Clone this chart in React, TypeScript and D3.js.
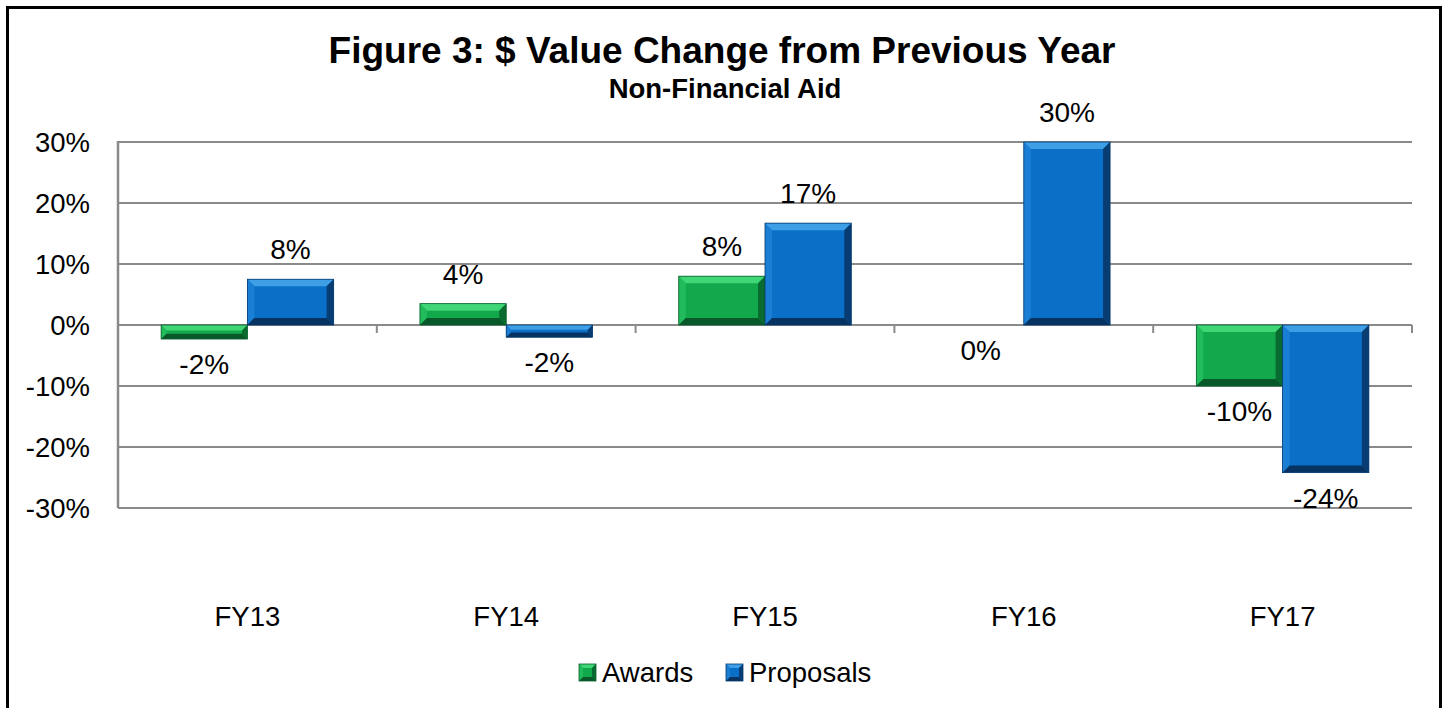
import React from "react";
import * as d3 from "d3";

const categories = ["FY13", "FY14", "FY15", "FY16", "FY17"];
const seriesNames = ["Awards", "Proposals"];
const awards = [-2.3, 3.5, 8.0, 0, -10.0];
const proposals = [7.5, -2.0, 16.7, 30.0, -24.2];
const yTicks = [30, 20, 10, 0, -10, -20, -30];

const W = 1448;
const H = 708;
const FONT = "'Liberation Sans', Arial, Helvetica, sans-serif";

const palettes = [
  { face: "#12a94c", top: "#3fd676", left: "#22bb5c", right: "#0a6b30", bottom: "#08582a", stroke: "#0b5e2c" },
  { face: "#0a6fc6", top: "#3f9fe6", left: "#1a7fd4", right: "#073d73", bottom: "#063361", stroke: "#063a6c" },
];

function Bevel({ x, y, w, h, p, b0 }: { x: number; y: number; w: number; h: number; p: any; b0: number }) {
  if (h <= 0.5 || w <= 0) return null;
  const b = Math.min(b0, h / 2.6, w / 3);
  const pts = (a: number[][]) => a.map((q) => q.join(",")).join(" ");
  return (
    <g>
      <rect x={x} y={y} width={w} height={h} fill={p.face} />
      <polygon points={pts([[x, y], [x + w, y], [x + w - b, y + b], [x + b, y + b]])} fill={p.top} />
      <polygon points={pts([[x, y], [x + b, y + b], [x + b, y + h - b], [x, y + h]])} fill={p.left} />
      <polygon points={pts([[x + w, y], [x + w, y + h], [x + w - b, y + h - b], [x + w - b, y + b]])} fill={p.right} />
      <polygon points={pts([[x, y + h], [x + w, y + h], [x + w - b, y + h - b], [x + b, y + h - b]])} fill={p.bottom} />
      <rect x={x} y={y} width={w} height={h} fill="none" stroke={p.stroke} strokeWidth={0.8} />
    </g>
  );
}

export default function App() {
  const x0 = d3.scaleBand<string>().domain(categories).range([118, 1412]).paddingInner(0).paddingOuter(0);
  const bw = x0.bandwidth();
  const x1 = d3.scaleBand<string>().domain(seriesNames).range([bw / 6, (bw * 5) / 6]).padding(0);
  const y = d3.scaleLinear().domain([-30, 30]).range([508, 142]);
  const data = [awards, proposals];

  return (
    <div style={{ position: "absolute", left: 0, top: 0 }}>
      <svg width={W} height={H} style={{ display: "block", background: "#fff" }} fontFamily={FONT}>
        <rect x={7.5} y={7.5} width={1433} height={740} fill="none" stroke="#000" strokeWidth={3} />
        <text x={722} y={63} textAnchor="middle" fontSize={37} fontWeight="bold" fill="#000">
          Figure 3: $ Value Change from Previous Year
        </text>
        <text x={725} y={98} textAnchor="middle" fontSize={27.5} fontWeight="bold" fill="#000">
          Non-Financial Aid
        </text>

        {yTicks.map((t) => (
          <g key={t}>
            <line x1={118} x2={1412} y1={y(t)} y2={y(t)} stroke="#8a8a8a" strokeWidth={2} />
            <text x={90} y={y(t)} dy="0.35em" textAnchor="end" fontSize={27.5} fill="#000">
              {t + "%"}
            </text>
          </g>
        ))}
        <line x1={118} x2={118} y1={y(30) - 1} y2={y(-30)} stroke="#8a8a8a" strokeWidth={2.5} />
        {categories.map((c) => (
          <line key={c} x1={(x0(c) as number) + bw} x2={(x0(c) as number) + bw} y1={y(0)} y2={y(0) + 8} stroke="#8a8a8a" strokeWidth={2} />
        ))}

        {categories.map((c, i) => (
          <g key={c}>
            {seriesNames.map((s, k) => {
              const v = data[k][i];
              const bx = (x0(c) as number) + (x1(s) as number);
              const w = x1.bandwidth();
              const top = y(Math.max(0, v));
              const bot = y(Math.min(0, v));
              return (
                <g key={s}>
                  <Bevel x={bx} y={top} w={w} h={bot - top} p={palettes[k]} b0={7} />
                  <text
                    x={bx + w / 2}
                    y={v > 0 ? top - 20 : bot + 35}
                    textAnchor="middle"
                    fontSize={28}
                    fill="#000"
                  >
                    {Math.round(v) + "%"}
                  </text>
                </g>
              );
            })}
            <text x={(x0(c) as number) + bw / 2} y={626} textAnchor="middle" fontSize={27.5} fill="#000">
              {c}
            </text>
          </g>
        ))}

        {seriesNames.map((s, k) => {
          const lx = k === 0 ? 579 : 726;
          return (
            <g key={s}>
              <Bevel x={lx} y={664} w={17} h={17} p={palettes[k]} b0={4} />
              <text x={lx + 23} y={682} fontSize={27.5} fill="#000">
                {s}
              </text>
            </g>
          );
        })}
      </svg>
    </div>
  );
}
